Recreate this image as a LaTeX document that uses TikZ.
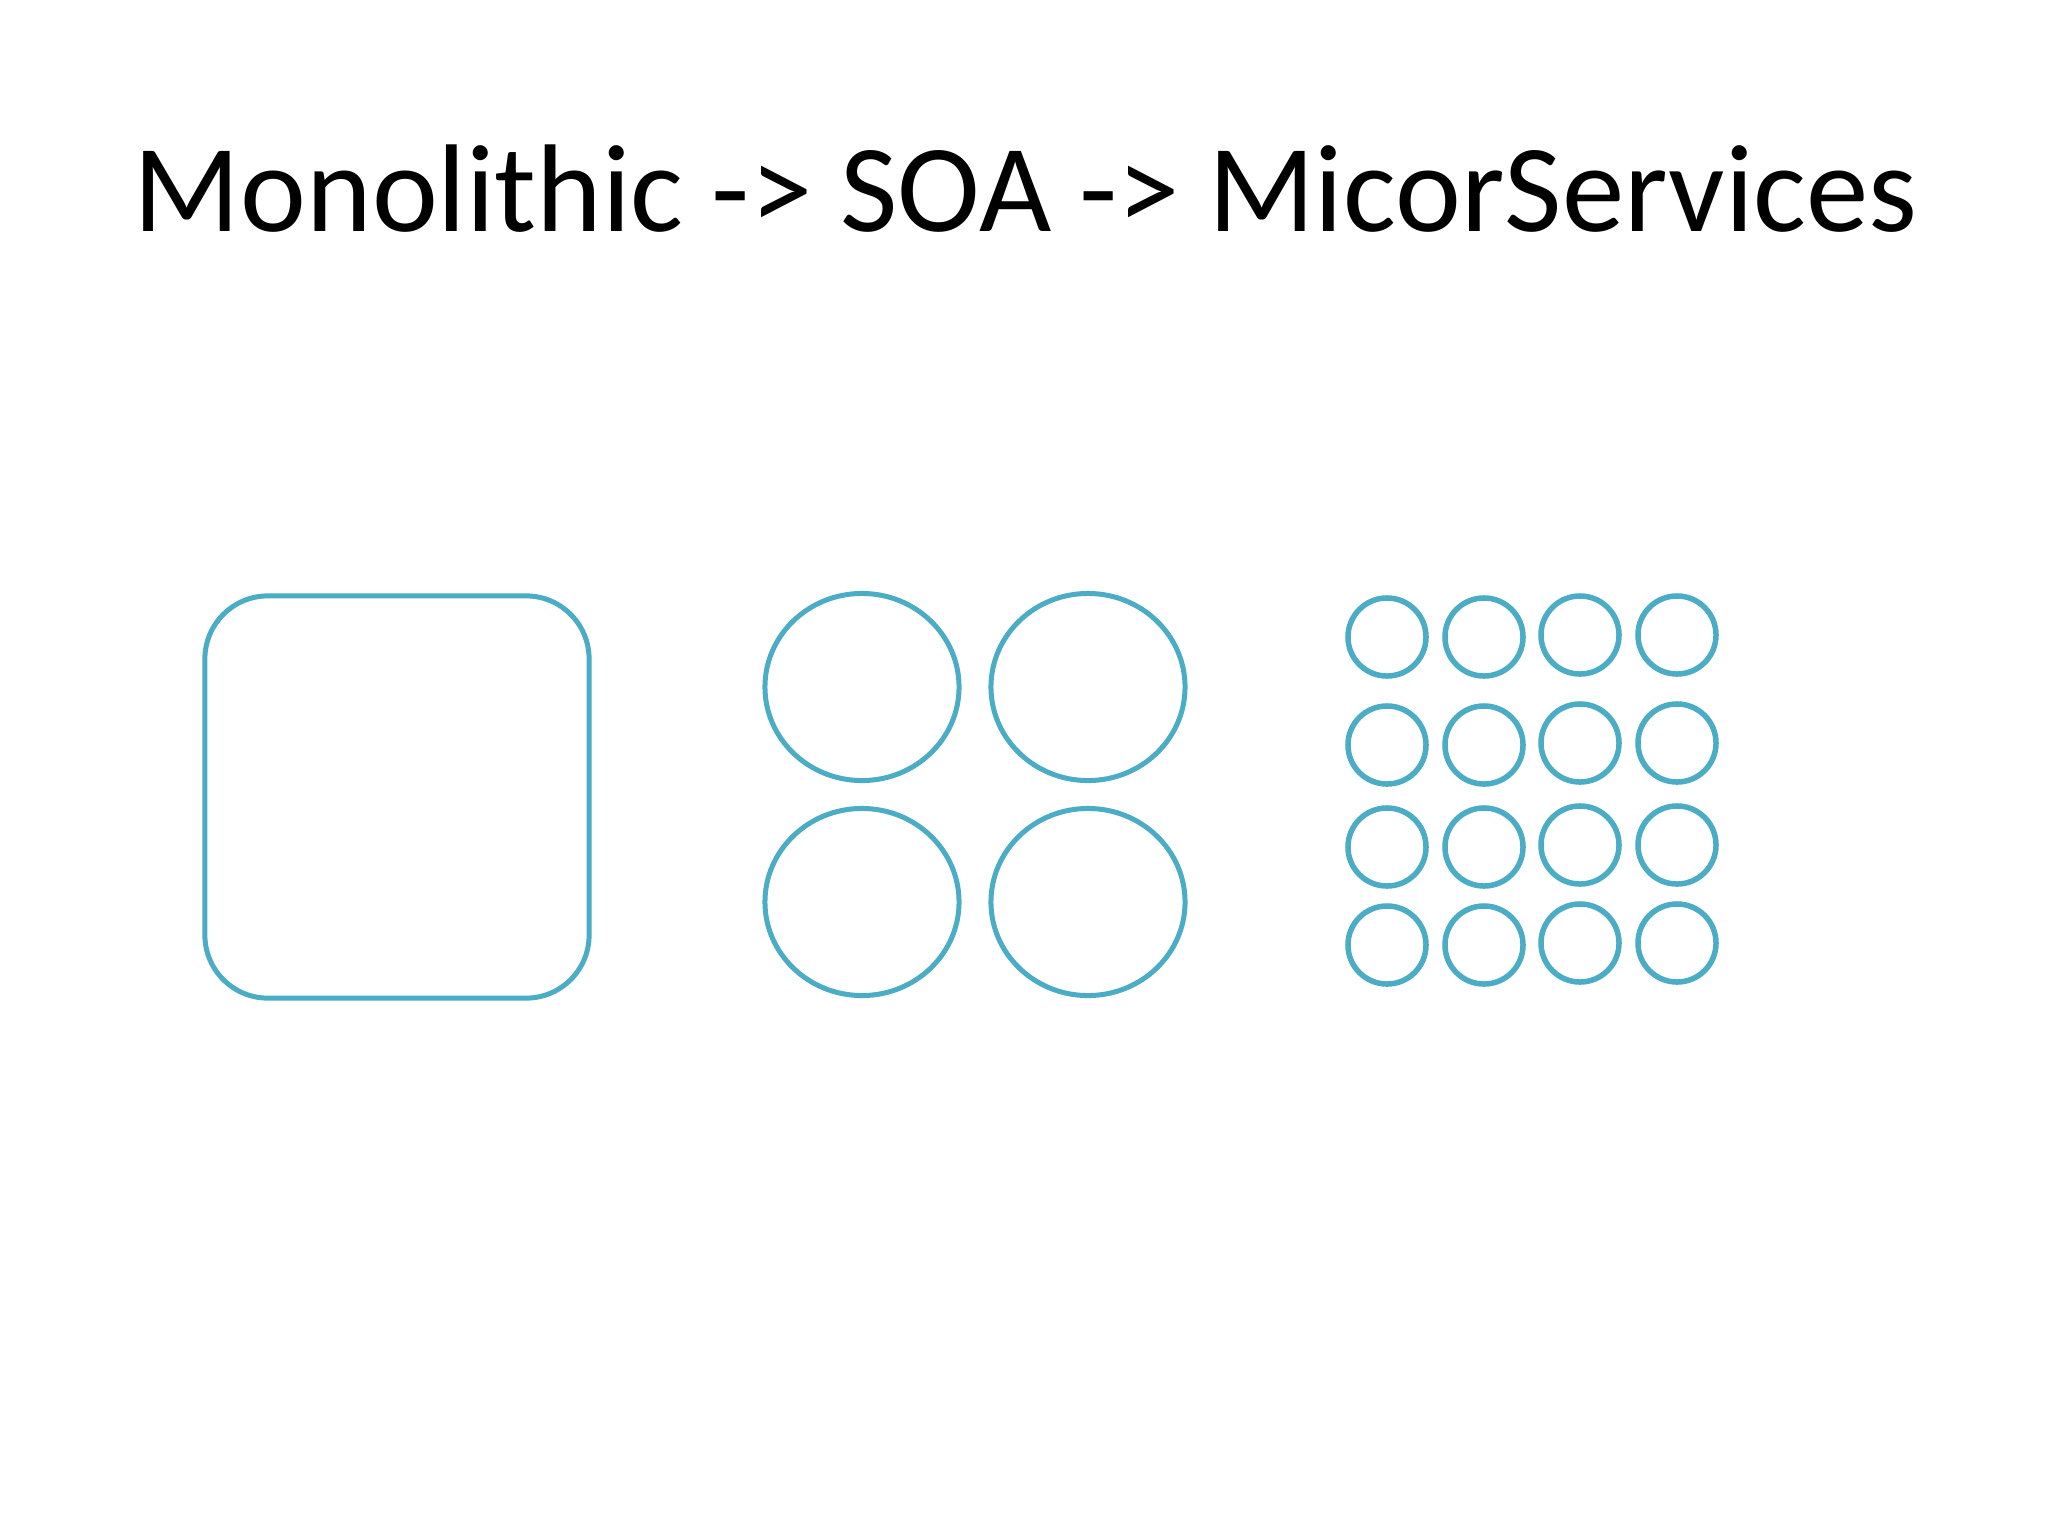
\documentclass[tikz,border=0pt]{standalone}
\usepackage{fontspec}
\setmainfont{Carlito}
\usepackage{tikz}
\usetikzlibrary{shapes.geometric, positioning}
\definecolor{svcblue}{RGB}{75,172,198}

\begin{document}
\begin{tikzpicture}[x=0.01cm, y=-0.01cm,
  headline/.style={anchor=base, inner sep=0pt, font=\fontsize{35.5}{40}\selectfont},
  mono/.style={rectangle, draw=svcblue, line width=0.05cm, rounded corners=0.63cm, minimum width=3.84cm, minimum height=4.02cm, inner sep=0pt},
  soa/.style={ellipse, draw=svcblue, line width=0.05cm, minimum width=1.94cm, minimum height=1.87cm, inner sep=0pt},
  micro/.style={circle, draw=svcblue, line width=0.055cm, minimum size=0.78cm, inner sep=0pt}
]
\useasboundingbox (0,0) rectangle (2048,1536);
\node[headline] (title) at (1026,231) {Monolithic -> SOA -> MicorServices};

\node[mono] (monolith) at (397,797) {};

\node[soa] (soa1) at (862,687) {};
\node[soa] (soa2) at (1088,687) {};
\node[soa] (soa3) at (862,902) {};
\node[soa] (soa4) at (1088,902) {};

\node[micro] (ms11) at (1387,637) {};
\node[micro] (ms12) at (1484,637) {};
\node[micro] (ms13) at (1580,635) {};
\node[micro] (ms14) at (1677,635) {};
\node[micro] (ms21) at (1387,745) {};
\node[micro] (ms22) at (1484,745) {};
\node[micro] (ms23) at (1580,743) {};
\node[micro] (ms24) at (1677,743) {};
\node[micro] (ms31) at (1387,847) {};
\node[micro] (ms32) at (1484,847) {};
\node[micro] (ms33) at (1580,845) {};
\node[micro] (ms34) at (1677,845) {};
\node[micro] (ms41) at (1387,945) {};
\node[micro] (ms42) at (1484,945) {};
\node[micro] (ms43) at (1580,943) {};
\node[micro] (ms44) at (1677,943) {};
\end{tikzpicture}
\end{document}
